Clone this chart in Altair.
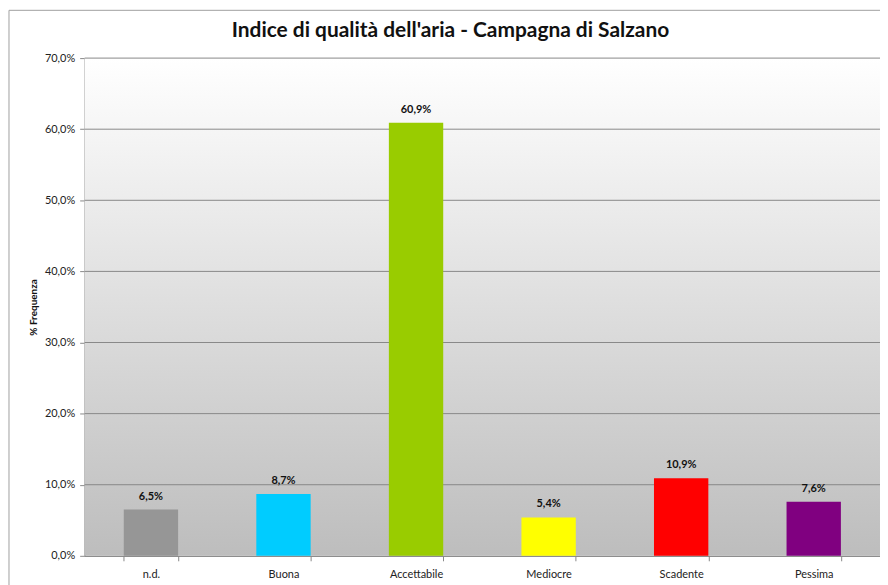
import altair as alt
import pandas as pd

categories = ["n.d.", "Buona", "Accettabile", "Mediocre", "Scadente", "Pessima"]
values = [0.065, 0.087, 0.609, 0.054, 0.109, 0.076]
colors = ["#969696", "#00ccff", "#99cc00", "#ffff00", "#ff0000", "#800080"]
y_ticks = [0, 0.1, 0.2, 0.3, 0.4, 0.5, 0.6, 0.7]
title_text = "Indice di qualità dell'aria - Campagna di Salzano"

df = pd.DataFrame({"cat": categories, "val": values})
grid_df = pd.DataFrame({"t": y_ticks[1:]})

W, H = 799, 500
FONT = "Lato"

yscale = alt.Scale(domain=[0, 0.7], nice=False)

xenc = alt.X("cat:N", sort=categories, title=None,
             scale=alt.Scale(paddingInner=0.59, paddingOuter=0.295),
             axis=alt.Axis(labelAngle=0, labelFontSize=11, labelColor="#222",
                           labelPadding=8, tickBand="extent", tickSize=5,
                           tickColor="#888", domainColor="#888", labelFont=FONT))
yenc = alt.Y("val:Q", scale=yscale,
             title="% Frequenza",
             axis=alt.Axis(values=y_ticks, grid=False,
                           labelExpr="replace(format(datum.value, '.1%'), '.', ',')",
                           labelFontSize=11, labelColor="#222", labelFont=FONT,
                           tickSize=5, tickColor="#888", domainColor="#888",
                           labelPadding=5,
                           titleFontSize=10, titleFontWeight="bold", titleColor="#111",
                           titleFont=FONT, titlePadding=6))

gradient = alt.LinearGradient(
    gradient="linear", x1=0, y1=0, x2=0, y2=1,
    stops=[alt.GradientStop(offset=0, color="#ffffff"),
           alt.GradientStop(offset=1, color="#bdbdbd")]
)

one = pd.DataFrame({"a": [0]})

border = alt.Chart(one).mark_rect(
    fill=None, stroke="#a0a0a0", strokeWidth=1
).encode(x=alt.value(-76), x2=alt.value(W + 40), y=alt.value(-48), y2=alt.value(H + 60))

title = alt.Chart(one).mark_text(
    font=FONT, fontSize=21, fontWeight="bold", color="#111",
    align="center", baseline="alphabetic"
).encode(x=alt.value(W / 2 - 32), y=alt.value(-21), text=alt.value(title_text))

bg = alt.Chart(one).mark_rect(color=gradient).encode(
    x=alt.value(0), x2=alt.value(W), y=alt.value(0), y2=alt.value(H))

grid = alt.Chart(grid_df).mark_rule(color="#888", strokeWidth=1).encode(
    y=alt.Y("t:Q", scale=yscale))

bars = alt.Chart(df).mark_bar().encode(
    x=xenc, y=yenc,
    color=alt.Color("cat:N", sort=categories,
                    scale=alt.Scale(domain=categories, range=colors), legend=None)
)

labels = alt.Chart(df).transform_calculate(
    lab="replace(format(datum.val, '.1%'), '.', ',')"
).mark_text(baseline="bottom", dy=-8, fontSize=11, fontWeight="bold",
            color="#111", font=FONT).encode(
    x=alt.X("cat:N", sort=categories),
    y="val:Q",
    text="lab:N"
)

chart = alt.layer(border, title, bg, grid, bars, labels).properties(
    width=W, height=H,
    autosize=alt.AutoSizeParams(type="none"),
    padding={"left": 77, "top": 49, "right": 0, "bottom": 30},
).configure_view(
    stroke="#888"
)

chart.save("out.html", embed_options={"renderer": "svg", "actions": False})
